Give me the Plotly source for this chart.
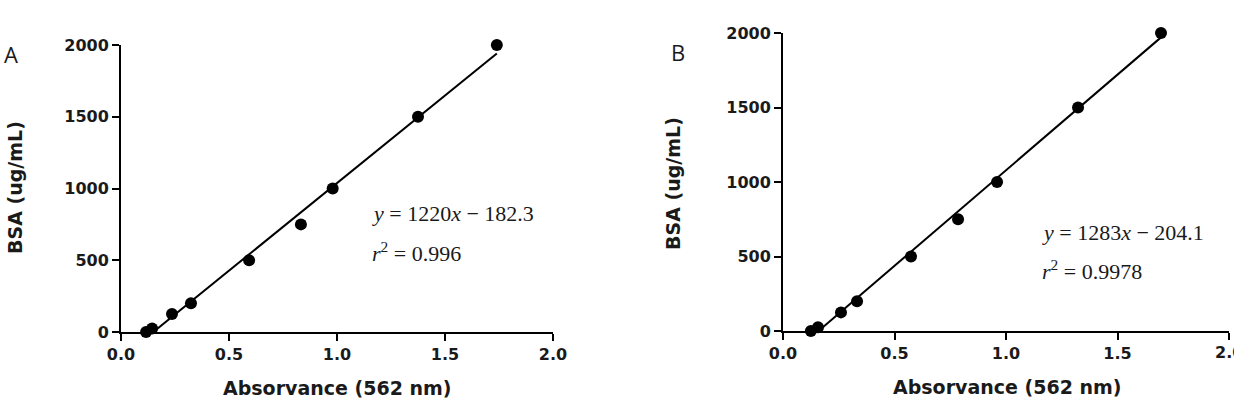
import plotly.graph_objects as go

W, H = 1234, 406

# Data
absorbance_a = [0.116, 0.144, 0.236, 0.324, 0.593, 0.833, 0.98, 1.375, 1.74]
bsa_a = [0, 25, 125, 200, 500, 750, 1000, 1500, 2000]
slope_a, intercept_a = 1220, -182.3

absorbance_b = [0.125, 0.157, 0.26, 0.332, 0.574, 0.785, 0.96, 1.323, 1.695]
bsa_b = [0, 25, 125, 200, 500, 750, 1000, 1500, 2000]
slope_b, intercept_b = 1283, -204.1

x_ticks = [0.0, 0.5, 1.0, 1.5, 2.0]
x_ticklabels = ["0.0", "0.5", "1.0", "1.5", "2.0"]
y_ticks = [0, 500, 1000, 1500, 2000]
y_ticklabels = ["0", "500", "1000", "1500", "2000"]

eq_a = "<i>y</i> = 1220<i>x</i> − 182.3"
r2_a = "<i>r</i><sup>2</sup> = 0.996"
eq_b = "<i>y</i> = 1283<i>x</i> − 204.1"
r2_b = "<i>r</i><sup>2</sup> = 0.9978"

x_title = "Absorvance (562 nm)"
y_title = "BSA (ug/mL)"


def px(x):
    return x / W


def py(y):
    return (H - y) / H


def fit_line(xs, slope, intercept):
    x0 = -intercept / slope
    x1 = xs[-1]
    return [x0, x1], [slope * x0 + intercept, slope * x1 + intercept]


fig = go.Figure()

for (xs, ys, slope, inter, xa, ya) in [
    (absorbance_a, bsa_a, slope_a, intercept_a, "x", "y"),
    (absorbance_b, bsa_b, slope_b, intercept_b, "x2", "y2"),
]:
    lx, ly = fit_line(xs, slope, inter)
    fig.add_trace(go.Scatter(x=lx, y=ly, mode="lines", line=dict(color="black", width=2),
                             xaxis=xa, yaxis=ya, showlegend=False, cliponaxis=False))
    fig.add_trace(go.Scatter(x=xs, y=ys, mode="markers",
                             marker=dict(color="black", size=12),
                             xaxis=xa, yaxis=ya, showlegend=False, cliponaxis=False))

ink = "#1a1a1a"
tickfont = dict(family="DejaVu Sans", size=16, color=ink, weight="bold")
common_axis = dict(showline=True, linecolor="black", linewidth=2, ticks="outside",
                   ticklen=7, tickwidth=2, tickcolor="black", showgrid=False,
                   zeroline=False, tickfont=tickfont, automargin=False)

fig.update_layout(
    width=W, height=H,
    margin=dict(l=0, r=0, t=0, b=0, pad=0, autoexpand=False),
    paper_bgcolor="white", plot_bgcolor="white",
    xaxis=dict(domain=[px(121), px(553)], range=[0, 2], tickvals=x_ticks,
               ticktext=x_ticklabels, anchor="y", **common_axis),
    yaxis=dict(domain=[py(332), py(45)], range=[0, 2000], tickvals=y_ticks,
               ticktext=y_ticklabels, anchor="x", **common_axis),
    xaxis2=dict(domain=[px(783), px(1229)], range=[0, 2], tickvals=x_ticks,
                ticktext=x_ticklabels, anchor="y2", **common_axis),
    yaxis2=dict(domain=[py(331), py(33)], range=[0, 2000], tickvals=y_ticks,
                ticktext=y_ticklabels, anchor="x2", **common_axis),
)

title_font = dict(family="DejaVu Sans", size=19, color=ink, weight="bold")
eq_font = dict(family="Liberation Serif, Times New Roman", size=22, color=ink)
panel_font = dict(family="Open Sans, Liberation Sans", size=22, color=ink)

annotations = [
    dict(x=px(337), y=py(388), text=x_title, font=title_font),
    dict(x=px(1007), y=py(387), text=x_title, font=title_font),
    dict(x=px(15), y=py(188), text=y_title, font=title_font, textangle=-90),
    dict(x=px(673), y=py(184), text=y_title, font=title_font, textangle=-90),
    dict(x=px(370), y=py(213), text=eq_a, font=eq_font, xanchor="left"),
    dict(x=px(370), y=py(252), text=r2_a, font=eq_font, xanchor="left"),
    dict(x=px(1040), y=py(232), text=eq_b, font=eq_font, xanchor="left"),
    dict(x=px(1040), y=py(270), text=r2_b, font=eq_font, xanchor="left"),
    dict(x=px(11), y=py(54), text="A", font=panel_font),
    dict(x=px(678), y=py(52), text="B", font=panel_font),
]
for a in annotations:
    a.setdefault("xanchor", "center")
    a.update(xref="paper", yref="paper", showarrow=False, yanchor="middle")
    fig.add_annotation(**a)

# last x tick label of panel B runs past the right edge (hidden by plotly); draw it as text
fig.add_annotation(x=x_ticks[-1], xref="x2", y=py(352), yref="paper",
                   text=x_ticklabels[-1], font=tickfont, showarrow=False,
                   xanchor="center", yanchor="middle")

fig.write_html("out.html")
